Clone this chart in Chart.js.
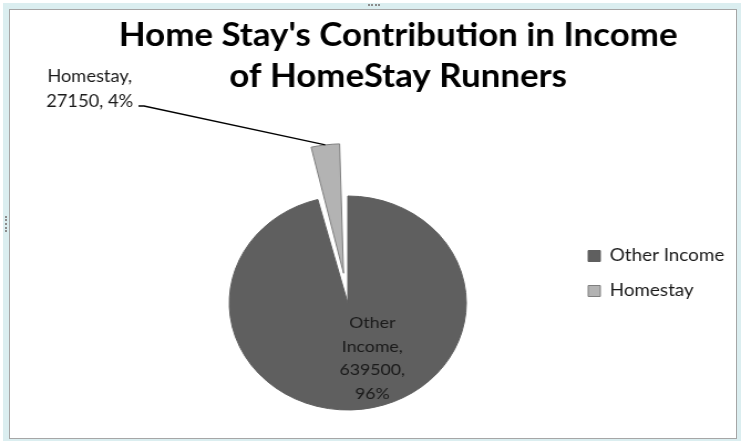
<!DOCTYPE html>
<html>
<head>
<meta charset="utf-8">
<script src="https://cdn.jsdelivr.net/npm/chart.js@4.4.1/dist/chart.umd.min.js"></script>
<style>
html, body { margin: 0; padding: 0; background: #fff; }
body { width: 741px; height: 441px; position: relative; overflow: hidden; }
#frame { position: absolute; left: 3px; top: 3px; width: 740px; height: 442px; box-sizing: border-box; border: 6px solid #dbeef0; box-shadow: inset 0 0 0 1px #a6a6a6; }
.dots-h { position: absolute; left: 368px; top: 4px; width: 12px; border-top: 2px dotted #8c8c8c; }
.dots-v { position: absolute; left: 5px; top: 216px; height: 16px; border-left: 2px dotted #8c8c8c; }
#wrap { position: absolute; left: 0; top: 0; width: 669px; height: 441px; transform: scaleX(1.1076); transform-origin: 0 0; }
</style>
</head>
<body>
<div id="frame"></div>
<div class="dots-h"></div>
<div class="dots-v"></div>
<div id="wrap"><canvas id="chart"></canvas></div>
<script>
//数据
var labels = ['Other Income', 'Homestay'];
var values = [639500, 27150];
var titleLines = ["Home Stay's Contribution in Income", 'of HomeStay Runners'];

var total = values.reduce(function(a, b) { return a + b; }, 0);

//百分比
function pct(v) {
    return Math.round(v / total * 100) + '%';
}

//图例和饼图位置微调
var layoutShift = {
    id: 'layoutShift',
    afterLayout: function(chart) {
        var lg = chart.legend;
        var dx = 513 - lg.left;
        lg.left += dx;
        lg.right += dx;
        lg.top -= 29.5;
        lg.bottom -= 29.5;
        var ca = chart.chartArea;
        ca.right = 578;
        ca.width = ca.right - ca.left;
    }
};

//数据标签
var sliceLabels = {
    id: 'sliceLabels',
    afterDatasetsDraw: function(chart) {
        var ctx = chart.ctx;
        var arcs = chart.getDatasetMeta(0).data;
        ctx.save();
        ctx.font = '16px Lato';
        ctx.fillStyle = '#1a1a1a';
        ctx.textAlign = 'center';
        ctx.textBaseline = 'middle';

        // Other Income, inside the slice
        var a = arcs[0];
        var mid = (a.startAngle + a.endAngle) / 2;
        var r = a.outerRadius * 0.52;
        var x = a.x + Math.cos(mid) * r + 15;
        var y = a.y + Math.sin(mid) * r - 35;
        var lines = ['Other', 'Income,', values[0] + ',', pct(values[0])];
        lines.forEach(function(t, i) {
            ctx.fillText(t, x, y + i * 23.5);
        });

        // Homestay, outside with leader line
        var b = arcs[1];
        var midB = (b.startAngle + b.endAngle) / 2;
        var off = (b.options.offset || 0) / 4;
        var fix = 1 - Math.sin(Math.min(Math.PI, b.endAngle - b.startAngle));
        var dist = off + b.outerRadius + off * fix;
        var px = b.x + Math.cos(midB) * dist;
        var py = b.y + Math.sin(midB) * dist;
        ctx.font = '16.5px Lato';
        ctx.fillText(labels[1] + ',', 81, 77);
        ctx.fillText(values[1] + ', ' + pct(values[1]), 81, 101.5);
        ctx.strokeStyle = '#000';
        ctx.lineWidth = 1.3;
        ctx.beginPath();
        ctx.moveTo(125, 106);
        ctx.lineTo(130, 106);
        ctx.lineTo(px, py);
        ctx.stroke();
        ctx.restore();
    }
};

new Chart(document.getElementById('chart'), {
    type: 'pie',
    data: {
        labels: labels,
        datasets: [{
            data: values,
            backgroundColor: ['#5f5f5f', '#b3b3b3'],
            borderColor: ['#5f5f5f', '#7f7f7f'],
            borderWidth: 1,
            offset: [0, 120],
            clip: false
        }]
    },
    options: {
        responsive: true,
        maintainAspectRatio: false,
        animation: false,
        events: [],
        radius: 107,
        layout: {
            padding: { top: 5, bottom: 5, left: 50, right: 0 }
        },
        plugins: {
            title: {
                display: true,
                text: titleLines,
                color: '#000',
                font: { family: 'Lato', size: 31.5, weight: 'bold', lineHeight: '41px' },
                padding: { top: 10, bottom: 73 }
            },
            legend: {
                position: 'right',
                fullSize: false,
                labels: {
                    boxWidth: 11,
                    boxHeight: 11,
                    padding: 18,
                    color: '#1a1a1a',
                    font: { family: 'Lato', size: 17 }
                }
            },
            tooltip: { enabled: false }
        }
    },
    plugins: [layoutShift, sliceLabels]
});
</script>
</body>
</html>
